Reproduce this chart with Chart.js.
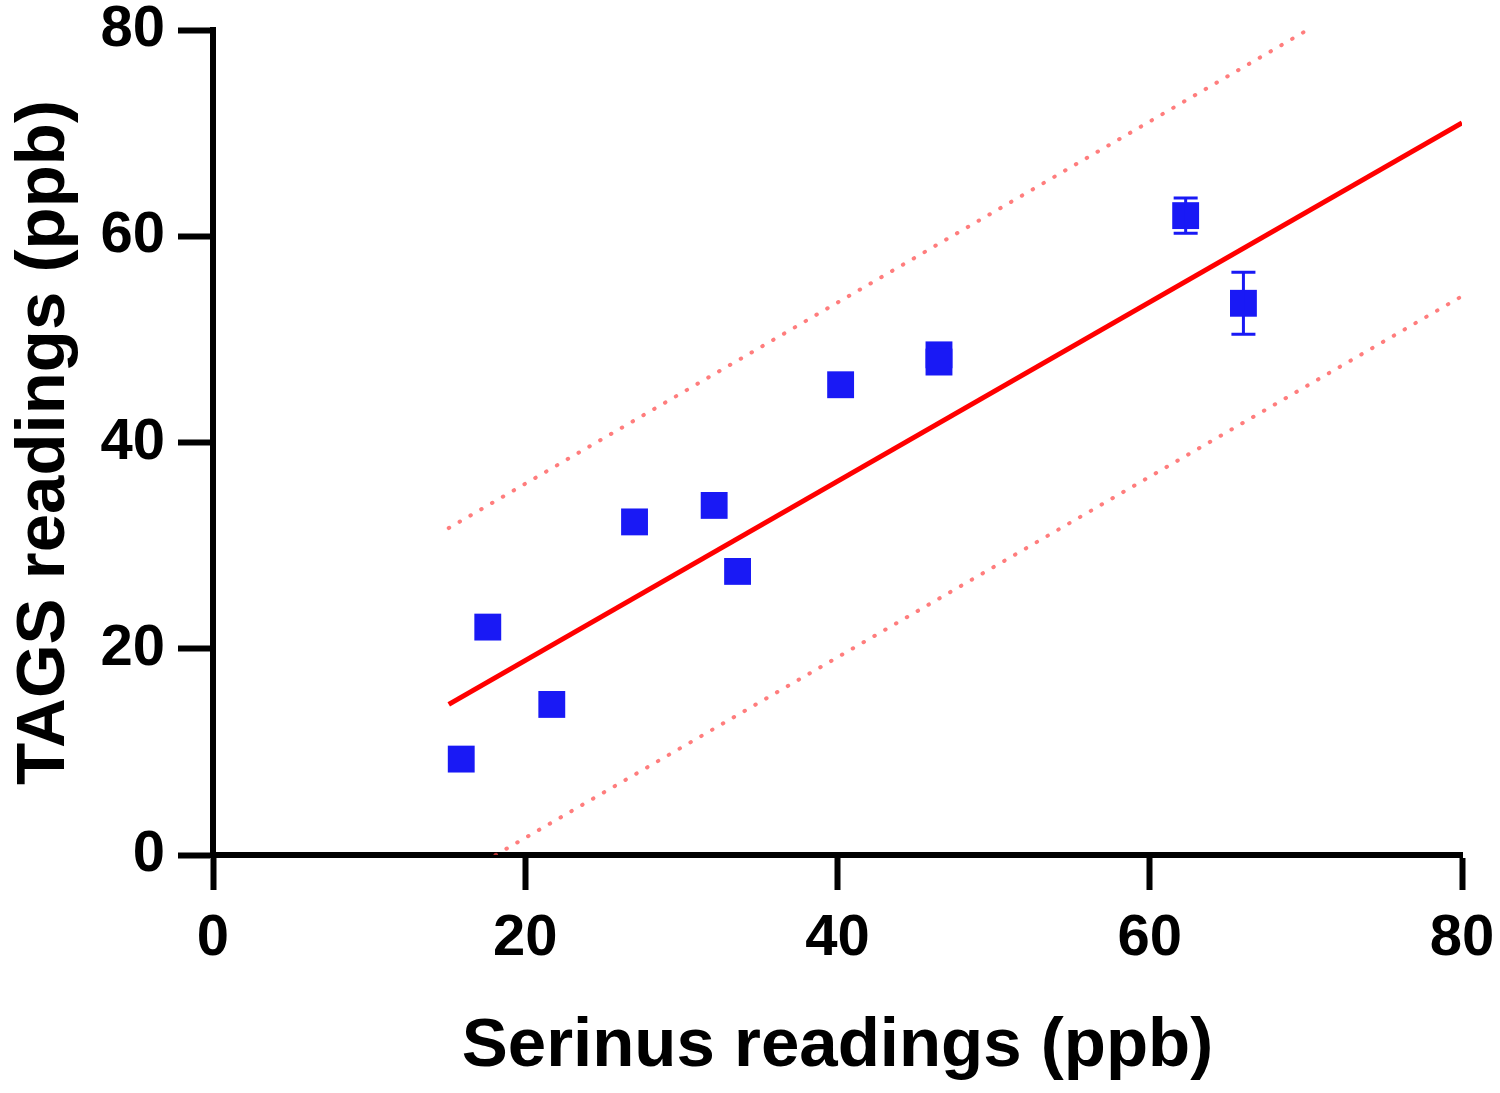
<!DOCTYPE html>
<html lang="en">
<head>
    <meta charset="UTF-8">
    <title>TAGS vs Serinus</title>
    <script src="https://cdn.jsdelivr.net/npm/chart.js"></script>
    <style>
        html, body { margin: 0; padding: 0; background: #fff; }
        .chart-container { position: relative; width: 1500px; height: 1093px; }
    </style>
</head>
<body>
    <div class="chart-container">
        <canvas id="scatterChart"></canvas>
    </div>

    <script>
        // measured points (ppb)
        const serinus = [15.9, 17.6, 21.7, 27.0, 32.1, 33.6, 40.2, 46.5, 46.5, 62.3, 66.0];
        const tags = [9.3, 22.1, 14.6, 32.3, 33.9, 27.5, 45.6, 48.5, 47.8, 62.0, 53.5];
        const tagsErr = [0, 0, 0, 0, 0, 0, 0, 0, 0, 1.7, 3.0];

        // regression line and prediction band endpoints
        const fitX = [15.1, 80];
        const fitY = [14.6, 71.0];
        const upperX = [15.1, 70.1];
        const upperY = [31.7, 80];
        const lowerX = [18.1, 79.9];
        const lowerY = [0, 54.1];

        const axisTicks = [0, 20, 40, 60, 80];

        const toPoints = (xs, ys) => xs.map((x, i) => ({ x: x, y: ys[i] }));

        const errorBars = {
            id: 'errorBars',
            afterDatasetsDraw(chart) {
                const ctx = chart.ctx;
                const xs = chart.scales.x, ys = chart.scales.y;
                ctx.save();
                ctx.strokeStyle = 'rgb(25,25,245)';
                ctx.lineWidth = 3;
                serinus.forEach((x, i) => {
                    if (!tagsErr[i]) return;
                    const px = xs.getPixelForValue(x);
                    const top = ys.getPixelForValue(tags[i] + tagsErr[i]);
                    const bot = ys.getPixelForValue(tags[i] - tagsErr[i]);
                    ctx.beginPath();
                    ctx.moveTo(px, top); ctx.lineTo(px, bot);
                    ctx.moveTo(px - 12, top); ctx.lineTo(px + 12, top);
                    ctx.moveTo(px - 12, bot); ctx.lineTo(px + 12, bot);
                    ctx.stroke();
                });
                ctx.restore();
            }
        };

        const tickFont = { family: 'Arial, "Liberation Sans", sans-serif', size: 58, weight: 'bold' };
        const titleFont = { family: 'Arial, "Liberation Sans", sans-serif', size: 69, weight: 'bold' };

        new Chart(document.getElementById('scatterChart'), {
            type: 'scatter',
            data: {
                datasets: [
                    {
                        label: 'Readings',
                        data: toPoints(serinus, tags),
                        pointStyle: 'rect',
                        pointRadius: 19,
                        backgroundColor: 'rgb(25,25,245)',
                        borderWidth: 0
                    },
                    {
                        label: 'Fit',
                        data: toPoints(fitX, fitY),
                        showLine: true,
                        borderColor: '#ff0000',
                        borderWidth: 5,
                        pointRadius: 0
                    },
                    {
                        label: 'Upper',
                        data: toPoints(upperX, upperY),
                        showLine: true,
                        borderColor: 'rgba(255,70,70,0.7)',
                        borderWidth: 4,
                        borderDash: [0.5, 12],
                        borderCapStyle: 'round',
                        pointRadius: 0
                    },
                    {
                        label: 'Lower',
                        data: toPoints(lowerX, lowerY),
                        showLine: true,
                        borderColor: 'rgba(255,70,70,0.7)',
                        borderWidth: 4,
                        borderDash: [0.5, 12],
                        borderCapStyle: 'round',
                        pointRadius: 0
                    }
                ]
            },
            options: {
                responsive: true,
                maintainAspectRatio: false,
                animation: false,
                layout: { padding: { top: 30, right: 38, left: 0, bottom: 0 } },
                plugins: {
                    legend: { display: false },
                    tooltip: { enabled: false }
                },
                scales: {
                    x: {
                        type: 'linear',
                        min: 0,
                        max: 80,
                        afterBuildTicks: (scale) => { scale.ticks = axisTicks.map(v => ({ value: v })); },
                        afterFit: (scale) => { scale.height = 238; scale.paddingLeft = 0; scale.paddingRight = 0; },
                        border: { display: true, color: '#000', width: 6 },
                        grid: { drawOnChartArea: false, drawTicks: true, tickLength: 35, tickWidth: 6, tickColor: '#000' },
                        ticks: { color: '#000', font: tickFont, padding: 14, maxRotation: 0 },
                        title: { display: true, text: 'Serinus readings (ppb)', color: '#000', font: titleFont, padding: { top: 10, bottom: 5 } }
                    },
                    y: {
                        type: 'linear',
                        min: 0,
                        max: 80,
                        afterBuildTicks: (scale) => { scale.ticks = axisTicks.map(v => ({ value: v })); },
                        afterFit: (scale) => { scale.width = 213; scale.paddingTop = 0; scale.paddingBottom = 0; },
                        border: { display: true, color: '#000', width: 6 },
                        grid: { drawOnChartArea: false, drawTicks: true, tickLength: 35, tickWidth: 6, tickColor: '#000' },
                        ticks: { color: '#000', font: tickFont, padding: 13 },
                        title: { display: true, text: 'TAGS readings (ppb)', color: '#000', font: titleFont, padding: { top: 4, bottom: 0 } }
                    }
                }
            },
            plugins: [errorBars]
        });
    </script>
</body>
</html>
